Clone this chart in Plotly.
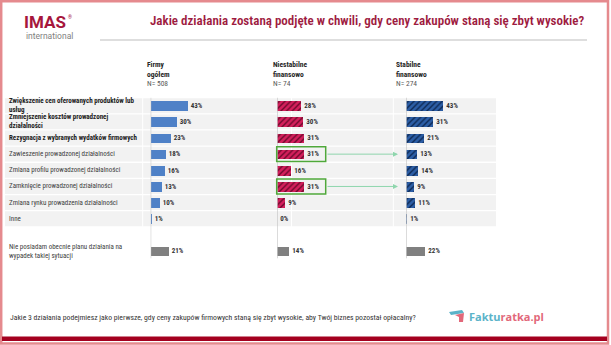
import plotly.graph_objects as go

W, H = 611, 345

# ---------------- data ----------------
categories = [
    "Zwiększenie cen oferowanych produktów lub<br>usług",
    "Zmniejszenie kosztów prowadzonej<br>działalności",
    "Rezygnacja z wybranych wydatków firmowych",
    "Zawieszenie prowadzonej działalności",
    "Zmiana profilu prowadzonej działalności",
    "Zamknięcie prowadzonej działalności",
    "Zmiana rynku prowadzenia działalności",
    "Inne",
    "Nie posiadam obecnie planu działania na<br>wypadek takiej sytuacji",
]
bold_rows = [True, True, True, False, False, False, False, False, False]
row_pos = [0, 1, 2, 3, 4, 5, 6, 7, 9]
firmy = [43, 30, 23, 18, 16, 13, 10, 1, 21]
niestabilne = [28, 30, 31, 31, 16, 31, 9, 0, 14]
stabilne = [43, 31, 21, 13, 14, 9, 11, 1, 22]
panel_titles = ["Firmy<br>ogółem", "Niestabilne<br>finansowo", "Stabilne<br>finansowo"]
panel_n = ["N= 508", "N= 74", "N= 274"]
highlight_rows = [3, 5]
title_text = "Jakie działania zostaną podjęte w chwili, gdy ceny zakupów staną się zbyt wysokie?"
question_text = ("Jakie 3 działania podejmiesz jako pierwsze, gdy ceny zakupów firmowych "
                 "staną się zbyt wysokie, aby Twój biznes pozostał opłacalny?")

# ---------------- helpers ----------------
def X(px):
    return px / W

def Y(py):
    return 1 - py / H

FONT = "Liberation Sans Narrow, Roboto Condensed, Roboto, sans-serif"
CRIMSON = "#9e1b3f"

panel_x0 = [150.7, 277.3, 406.3]
px_per_unit = 0.86
xmax = 100
row0, row_step = 105.7, 16.15
ytop = row0 - 0.5 * row_step
ybot = row0 + 9.5 * row_step

fig = go.Figure()

series = [firmy, niestabilne, stabilne]
styles = [
    dict(color="#4f81c7", pattern=None),
    dict(color="#d41f5c", pattern=dict(shape="/", bgcolor="#d41f5c", fgcolor="#6e0a2c",
                                         size=4, solidity=0.35, fillmode="replace")),
    dict(color="#2c5ea6", pattern=dict(shape="/", bgcolor="#2c5ea6", fgcolor="#0e2a55",
                                         size=4, solidity=0.35, fillmode="replace")),
]

for k, vals in enumerate(series):
    xa = "x" if k == 0 else f"x{k+1}"
    main_x = vals[:-1]
    main_y = row_pos[:-1]
    m = dict(color=styles[k]["color"], line=dict(width=0))
    if styles[k]["pattern"]:
        m["pattern"] = styles[k]["pattern"]
    fig.add_trace(go.Bar(
        x=main_x, y=main_y, orientation="h", xaxis=xa, yaxis="y", width=0.6,
        marker=m, text=[f"<b>{v}%</b>" for v in main_x], textposition="outside",
        textfont=dict(family=FONT, size=7, color="#333333"), constraintext="none",
        cliponaxis=False, showlegend=False, hoverinfo="skip"))
    fig.add_trace(go.Bar(
        x=[vals[-1]], y=[row_pos[-1]], orientation="h", xaxis=xa, yaxis="y", width=0.6,
        marker=dict(color="#808080", line=dict(width=0)),
        text=[f"<b>{vals[-1]}%</b>"], textposition="outside",
        textfont=dict(family=FONT, size=7, color="#333333"), constraintext="none",
        cliponaxis=False, showlegend=False, hoverinfo="skip"))

layout = dict(
    width=W, height=H, margin=dict(l=0, r=0, t=0, b=0),
    paper_bgcolor="white", plot_bgcolor="rgba(0,0,0,0)",
    bargap=0, font=dict(family=FONT),
    yaxis=dict(range=[9.5, -0.5], domain=[Y(ybot), Y(ytop)], visible=False, fixedrange=True),
)
for k in range(3):
    key = "xaxis" if k == 0 else f"xaxis{k+1}"
    x0 = panel_x0[k]
    layout[key] = dict(range=[0, xmax], domain=[X(x0), X(x0 + xmax * px_per_unit)],
                       visible=False, anchor="y", fixedrange=True)
fig.update_layout(**layout)

shapes = []
# row stripes
for i in range(8):
    shapes.append(dict(type="rect", xref="paper", yref="y", x0=X(5), x1=X(496),
                       y0=i - 0.5 + 0.04, y1=i + 0.5 - 0.04, fillcolor="#f2f2f2",
                       line=dict(width=0), layer="below"))
for vx in [142.7, 291.5, 393.3]:
    shapes.append(dict(type="line", xref="paper", yref="y", x0=X(vx), x1=X(vx),
                       y0=-0.5, y1=7.5, line=dict(color="white", width=1), layer="below"))
# vertical axis lines
for k in range(3):
    xr = "x" if k == 0 else f"x{k+1}"
    shapes.append(dict(type="line", xref=xr, yref="y", x0=0, x1=0, y0=-0.55, y1=9.45,
                       line=dict(color="#bfbfbf", width=1)))
# highlight boxes (panel 2)
for r in highlight_rows:
    shapes.append(dict(type="rect", xref="paper", yref="y", x0=X(276.7), x1=X(325.7),
                       y0=r - 0.46, y1=r + 0.46, line=dict(color="#4fa83a", width=1.5)))
# title underline
shapes.append(dict(type="line", xref="paper", yref="paper", x0=X(100), x1=X(587),
                   y0=Y(40), y1=Y(40), line=dict(color="#bdbdbd", width=1)))
# frame
shapes.append(dict(type="rect", xref="paper", yref="paper", x0=X(1.2), x1=X(608),
                   y0=Y(343.5), y1=Y(1.2), line=dict(color="#e58a8e", width=2.5)))
shapes.append(dict(type="rect", xref="paper", yref="paper", x0=X(2), x1=X(607),
                   y0=Y(341), y1=Y(336.5), fillcolor="#a4001f", line=dict(width=0)))
# Fakturatka icon
shapes.append(dict(type="path", xref="paper", yref="paper",
                   path=f"M {X(449)},{Y(312)} L {X(462)},{Y(310)} L {X(464)},{Y(313)} L {X(451)},{Y(315)} Z",
                   fillcolor="#5bb3c9", line=dict(width=0)))
shapes.append(dict(type="path", xref="paper", yref="paper",
                   path=f"M {X(455)},{Y(315)} L {X(464)},{Y(313)} L {X(463)},{Y(322)} L {X(459)},{Y(322)} L {X(459)},{Y(317)} Z",
                   fillcolor="#e2687a", line=dict(width=0)))
fig.update_layout(shapes=shapes)

ann = []
for lab, b, r in zip(categories, bold_rows, row_pos):
    txt = f"<b>{lab}</b>" if b else lab
    ann.append(dict(text=txt, xref="paper", yref="y", x=X(7), y=r, xanchor="left",
                    yanchor="middle", align="left", showarrow=False,
                    font=dict(family=FONT, size=7, color="#222222" if b else "#404040")))
head_x = [145, 270.5, 394]
for k in range(3):
    ann.append(dict(text=f"<b>{panel_titles[k]}</b>", xref="paper", yref="paper",
                    x=X(head_x[k]), y=Y(69.5), xanchor="left", yanchor="middle", align="left",
                    showarrow=False, font=dict(family=FONT, size=7.5, color="#262626")))
    ann.append(dict(text=panel_n[k], xref="paper", yref="paper",
                    x=X(head_x[k]), y=Y(83.5), xanchor="left", yanchor="middle", align="left",
                    showarrow=False, font=dict(family=FONT, size=7.5, color="#595959")))
# arrows
for r in highlight_rows:
    ann.append(dict(text="", xref="paper", yref="y", x=X(398), y=r, ax=-72, ay=0,
                    showarrow=True, arrowhead=2, arrowsize=1, arrowwidth=1,
                    arrowcolor="#8fd6ad", standoff=0, startstandoff=0))
# title & logo
ann.append(dict(text=title_text, xref="paper", yref="paper", x=X(148), y=Y(21),
                xanchor="left", yanchor="middle", showarrow=False,
                font=dict(family=FONT, size=13, color=CRIMSON, weight=600)))
ann.append(dict(text="<b>IMAS</b>", xref="paper", yref="paper", x=X(22), y=Y(22),
                xanchor="left", yanchor="middle", showarrow=False,
                font=dict(family="Roboto, sans-serif", size=17, color="#a6163c")))
ann.append(dict(text="®", xref="paper", yref="paper", x=X(66), y=Y(17),
                xanchor="left", yanchor="middle", showarrow=False,
                font=dict(family="Roboto, sans-serif", size=5, color="#a6163c")))
ann.append(dict(text="international", xref="paper", yref="paper", x=X(23.5), y=Y(35.5),
                xanchor="left", yanchor="middle", showarrow=False,
                font=dict(family="Roboto, sans-serif", size=8.5, color="#7f7f7f")))
ann.append(dict(text=question_text, xref="paper", yref="paper", x=X(8), y=Y(317),
                xanchor="left", yanchor="middle", showarrow=False,
                font=dict(family=FONT, size=7.7, color="#333333")))
ann.append(dict(text="<b><span style='color:#5bb3c9'>Faktu</span><span style='color:#e2687a'>ratka.pl</span></b>",
                xref="paper", yref="paper", x=X(467), y=Y(316),
                xanchor="left", yanchor="middle", showarrow=False,
                font=dict(family="Open Sans, sans-serif", size=11)))
fig.update_layout(annotations=ann)

fig.write_html("out.html")
